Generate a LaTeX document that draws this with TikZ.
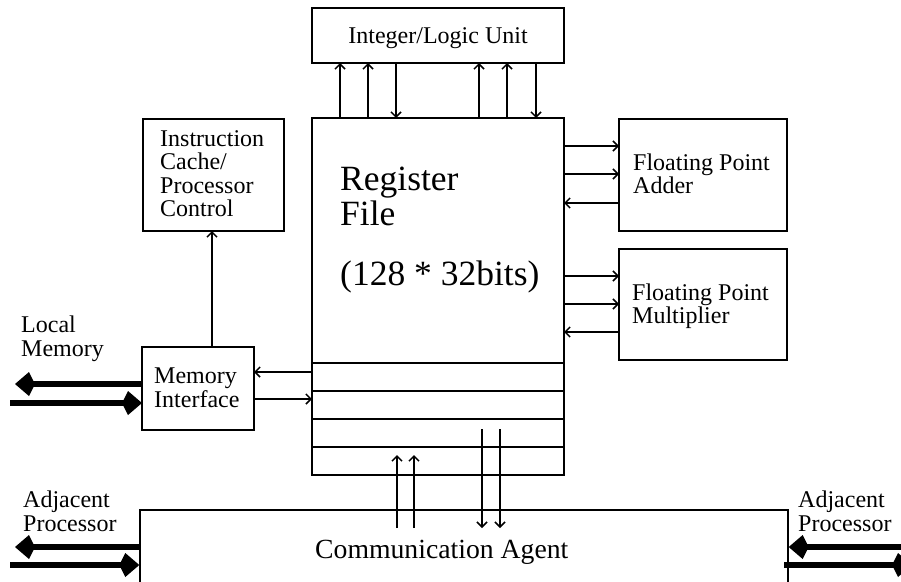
\documentclass[tikz,border=0pt]{standalone}
\usepackage{fontspec}
\setmainfont{Liberation Serif}
\usetikzlibrary{arrows.meta}
\begin{document}
\begin{tikzpicture}[x=1pt,y=-1pt,
  box/.style={draw,line width=1.8pt,inner sep=0pt,outer sep=0pt},
  lbl/.style={anchor=base west,inner sep=0pt,font=\fontsize{24}{24}\selectfont},
  big/.style={anchor=base west,inner sep=0pt,font=\fontsize{35.5}{35.5}\selectfont},
  sig/.style={line width=1.5pt,-{Straight Barb[length=5pt,width=10pt,line width=1.5pt]}},
  fat/.style={line width=6pt,-{Kite[length=20pt,width=24pt,inset=6pt]}}]
\clip (0,0) rectangle (901,581);

% functional blocks (x, y in pixel-like units)
\node[box,minimum width=252pt,minimum height=55pt] (ilu) at (438,35.5) {};
\node[box,minimum width=252pt,minimum height=357pt] (rf) at (438,296.5) {};
\node[box,minimum width=141pt,minimum height=112pt] (ic) at (213.5,175) {};
\node[box,minimum width=112pt,minimum height=83pt] (mi) at (198,388.5) {};
\node[box,minimum width=168pt,minimum height=112pt] (fpa) at (703,175) {};
\node[box,minimum width=168pt,minimum height=111pt] (fpm) at (703,304.5) {};
\node[draw,line width=1.4pt,inner sep=0pt,minimum width=648pt,minimum height=120pt] (ca) at (464,570) {};

% register file rows
\foreach \yy in {363,391,419,447}
  \draw[line width=1.5pt] (rf.west |- 0,\yy) -- (rf.east |- 0,\yy);

% labels
\node[lbl,anchor=base] (t-ilu) at (438,43) {Integer/Logic Unit};
\node[lbl] (t-ic1) at (160,146) {Instruction};
\node[lbl] (t-ic2) at (160,169.5) {Cache/};
\node[lbl] (t-ic3) at (160,193) {Processor};
\node[lbl] (t-ic4) at (160,216.5) {Control};
\node[big] (t-rf1) at (340,190) {Register};
\node[big] (t-rf2) at (340,225) {File};
\node[big] (t-rf3) at (340,285) {(128 * 32bits)};
\node[lbl] (t-fa1) at (633,170) {Floating Point};
\node[lbl] (t-fa2) at (633,193.5) {Adder};
\node[lbl] (t-fm1) at (632,300) {Floating Point};
\node[lbl] (t-fm2) at (632,323.5) {Multiplier};
\node[lbl] (t-mi1) at (154,383) {Memory};
\node[lbl] (t-mi2) at (154,407) {Interface};
\node[lbl] (t-lm1) at (21,332) {Local};
\node[lbl] (t-lm2) at (21,356) {Memory};
\node[lbl] (t-ap1) at (23,507) {Adjacent};
\node[lbl] (t-ap2) at (23,531.5) {Processor};
\node[lbl] (t-aq1) at (798,507) {Adjacent};
\node[lbl] (t-aq2) at (798,531.5) {Processor};
\node[anchor=base west,inner sep=0pt,font=\fontsize{27.7}{27.7}\selectfont] (t-ca) at (315,558) {Communication Agent};

% register file -> integer/logic unit (operands)
\foreach \xx in {340,368,479,507}
  \draw[sig] (rf.north -| \xx,0) -- (ilu.south -| \xx,0);
% integer/logic unit -> register file (results)
\foreach \xx in {396,536}
  \draw[sig] (ilu.south -| \xx,0) -- (rf.north -| \xx,0);

% register file <-> floating point units
\foreach \yy in {146,174}
  \draw[sig] (rf.east |- 0,\yy) -- (fpa.west |- 0,\yy);
\draw[sig] (fpa.west |- 0,203) -- (rf.east |- 0,203);
\foreach \yy in {276,304}
  \draw[sig] (rf.east |- 0,\yy) -- (fpm.west |- 0,\yy);
\draw[sig] (fpm.west |- 0,332) -- (rf.east |- 0,332);

% memory interface links
\draw[sig] (rf.west |- 0,372) -- (mi.east |- 0,372);
\draw[sig] (mi.east |- 0,399) -- (rf.west |- 0,399);
\draw[sig] (mi.north -| 212,0) -- (ic.south -| 212,0);

% communication agent <-> register file
\coordinate (cu1) at (397,528);
\coordinate (cu2) at (414,528);
\coordinate (cd1) at (482,429);
\coordinate (cd2) at (500,429);
\draw[sig] (cu1) -- (397,455);
\draw[sig] (cu2) -- (414,455);
\draw[sig] (cd1) -- (482,528);
\draw[sig] (cd2) -- (500,528);

% external wide paths
\coordinate (lmo) at (15,384);
\coordinate (lmi) at (10,403);
\draw[fat] (mi.west |- 0,384) -- (lmo);
\draw[fat] (lmi) -- (mi.west |- 0,403);
\coordinate (apo) at (15,547);
\coordinate (api) at (10,565);
\draw[fat] (ca.west |- 0,547) -- (apo);
\draw[fat] (api) -- (ca.west |- 0,565);
\coordinate (aqi) at (901,547);
\coordinate (aqo) at (912,565);
\coordinate (aqs) at (784,565);
\draw[fat] (aqi) -- (ca.east |- 0,547);
\draw[fat] (aqs) -- (aqo);
\end{tikzpicture}
\end{document}
